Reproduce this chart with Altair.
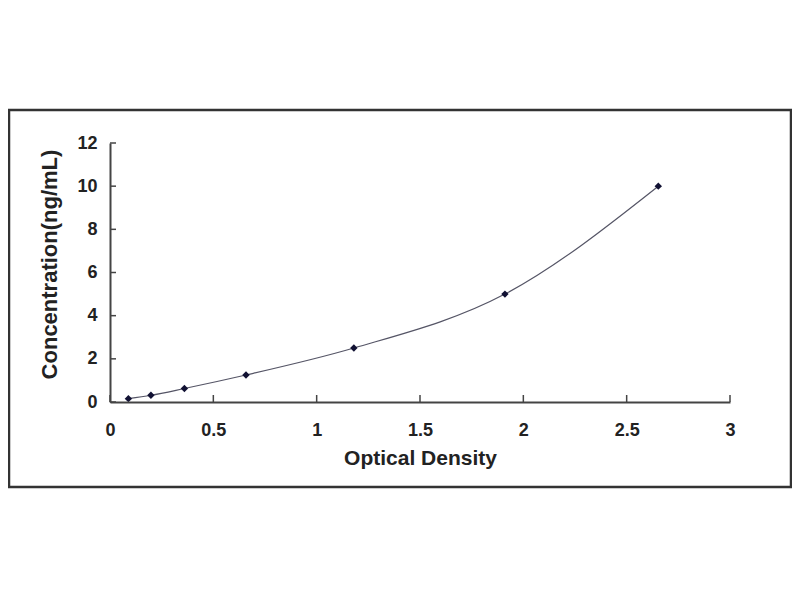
import altair as alt
import pandas as pd

od = [0.089, 0.198, 0.36, 0.658, 1.18, 1.911, 2.653]
conc = [0.156, 0.312, 0.625, 1.25, 2.5, 5, 10]
x_ticks = [0, 0.5, 1, 1.5, 2, 2.5, 3]
y_ticks = [0, 2, 4, 6, 8, 10, 12]

W, H = 620, 259
FONT = "Liberation Sans"
TXT = "#222222"

df = pd.DataFrame({"od": od, "conc": conc})
dx = pd.DataFrame({"t": x_ticks})
dy = pd.DataFrame({"t": y_ticks})

xscale = alt.Scale(domain=[0, 3], nice=False, zero=True)
yscale = alt.Scale(domain=[0, 12], nice=False, zero=True)

xaxis = alt.Axis(values=x_ticks, format="~g", title="Optical Density", grid=False, ticks=False, tickSize=0,
                 labelPadding=19, labelFontSize=18, labelFont=FONT, labelFontWeight="bold",
                 labelColor=TXT, titleFont=FONT, titleFontSize=21, titleFontWeight="bold",
                 titleColor=TXT, titlePadding=8, domainColor="#444444", domainWidth=2,
                 labelFlush=False, zindex=1)
yaxis = alt.Axis(values=y_ticks, format="~g", title="Concentration(ng/mL)", grid=False, ticks=False, tickSize=0,
                 labelPadding=13, labelFontSize=18, labelFont=FONT, labelFontWeight="bold",
                 labelColor=TXT, titleFont=FONT, titleFontSize=22, titleFontWeight="bold",
                 titleColor=TXT, titlePadding=15, titleY=121, domainColor="#444444", domainWidth=2,
                 labelFlush=False, zindex=1)

frame = alt.Chart(pd.DataFrame({"a": [0]})).mark_rect(
    fillOpacity=0, stroke="#333333", strokeWidth=2.5
).encode(
    x=alt.value(-101), x2=alt.value(681), y=alt.value(-33), y2=alt.value(344)
)

line = alt.Chart(df).mark_line(color="#555566", strokeWidth=1.2, interpolate="monotone").encode(
    x=alt.X("od:Q", scale=xscale, axis=xaxis),
    y=alt.Y("conc:Q", scale=yscale, axis=yaxis),
)

pts = alt.Chart(df).mark_point(shape="diamond", filled=True, color="#111133", size=55, opacity=1).encode(
    x=alt.X("od:Q", scale=xscale),
    y=alt.Y("conc:Q", scale=yscale),
)

xt = alt.Chart(dx).mark_rule(color="#444444", strokeWidth=1.5).encode(
    x=alt.X("t:Q", scale=xscale),
    y=alt.value(H), y2=alt.value(H - 7),
)
yt = alt.Chart(dy).mark_rule(color="#444444", strokeWidth=1.5).encode(
    y=alt.Y("t:Q", scale=yscale),
    x=alt.value(0), x2=alt.value(6),
)

chart = alt.layer(line, frame, xt, yt, pts).properties(
    width=W, height=H,
    autosize=alt.AutoSizeParams(type="none"),
    padding={"left": 102, "top": 135, "right": 62, "bottom": 190},
    background="white",
).configure_view(stroke=None)

chart.save("out.html", embed_options={"renderer": "svg", "actions": False})
